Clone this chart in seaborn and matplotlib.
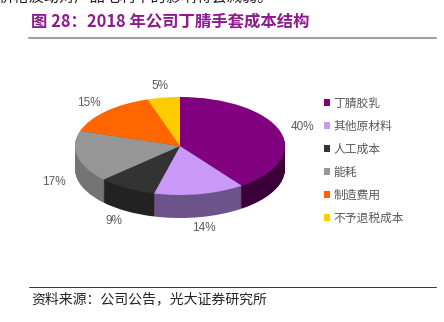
import matplotlib
matplotlib.use("Agg")
import matplotlib.pyplot as plt
from matplotlib.lines import Line2D
import seaborn as sns

# ---- data ----
categories = ["丁腈胶乳", "其他原材料", "人工成本", "能耗", "制造费用", "不予退税成本"]
shares = [40, 14, 9, 17, 15, 5]
pct_labels = ["40%", "14%", "9%", "17%", "15%", "5%"]
top_colors = ["#800080", "#C998F8", "#333333", "#969696", "#FF6600", "#FFCC00"]
side_colors = ["#3A0038", "#6C5389", "#222222", "#747474", "#B84A00", "#C09A00"]
title = "图 28：2018 年公司丁腈手套成本结构"
source = "资料来源：公司公告，光大证券研究所"
top_text = "价格波动对产品毛利率的影响将会减弱。"

sns.set_theme(style="white")
plt.rcParams["font.family"] = ["Noto Sans CJK SC", "DejaVu Sans"]

W, H = 444, 322
fig = plt.figure(figsize=(W / 100, H / 100), dpi=100)
fig.patch.set_facecolor("white")

# pie geometry in pixels
cx, cy, rx, ry, depth_px = 180, 146, 105, 49, 23
xl = (-1.5, 1.5)
yl = (-2.0, 1.5)
left = (cx + xl[0] * rx) / W
width = (xl[1] - xl[0]) * rx / W
top_px = cy - yl[1] * ry
bot_px = cy - yl[0] * ry
ax = fig.add_axes([left, 1 - bot_px / H, width, (bot_px - top_px) / H])

depth = depth_px / ry
n = 30
for i in range(n, 0, -1):
    d = depth * i / n
    ax.pie(shares, colors=side_colors, startangle=90, counterclock=False,
           center=(0, -d), radius=1, wedgeprops=dict(linewidth=0))

wedges, texts = ax.pie(shares, colors=top_colors, startangle=90, counterclock=False,
                       center=(0, 0), radius=1, labels=pct_labels, labeldistance=1.23,
                       wedgeprops=dict(linewidth=0),
                       textprops=dict(color="#595959", fontsize=8.5,
                                      family=["Liberation Sans", "DejaVu Sans"]))
for t in texts:
    x, y = t.get_position()
    t.set_ha("center")
    if y < 0:
        t.set_y(y - depth)

ax.set_aspect("auto")
ax.set_xlim(*xl)
ax.set_ylim(*yl)
ax.axis("off")

# legend
leg = fig.legend(wedges, categories, loc="upper left",
                 bbox_to_anchor=(324 / W, 1 - 97 / H), frameon=False,
                 fontsize=8.5, labelcolor="#595959", handlelength=0.55,
                 handleheight=0.55, handletextpad=0.25, labelspacing=0.84,
                 borderpad=0, borderaxespad=0)

# title and rules
fig.text(31 / W, 1 - 21 / H, title, color="#8E1A8E", fontsize=11.8, fontweight="bold",
         va="center", ha="left")
fig.add_artist(Line2D([29 / W, 436 / W], [1 - 38 / H, 1 - 38 / H], color="#A0A0A0",
                      linewidth=1.5))
fig.add_artist(Line2D([29 / W, 436 / W], [1 - 287 / H, 1 - 287 / H], color="#333333",
                      linewidth=0.7))
fig.text(31 / W, 1 - 299 / H, source, color="#222222", fontsize=10, va="center", ha="left")
fig.text(-2 / W, 1 - 6 / H, top_text, color="#222222", fontsize=11, va="bottom", ha="left")

fig.savefig("out.png", dpi=100, facecolor="white")
